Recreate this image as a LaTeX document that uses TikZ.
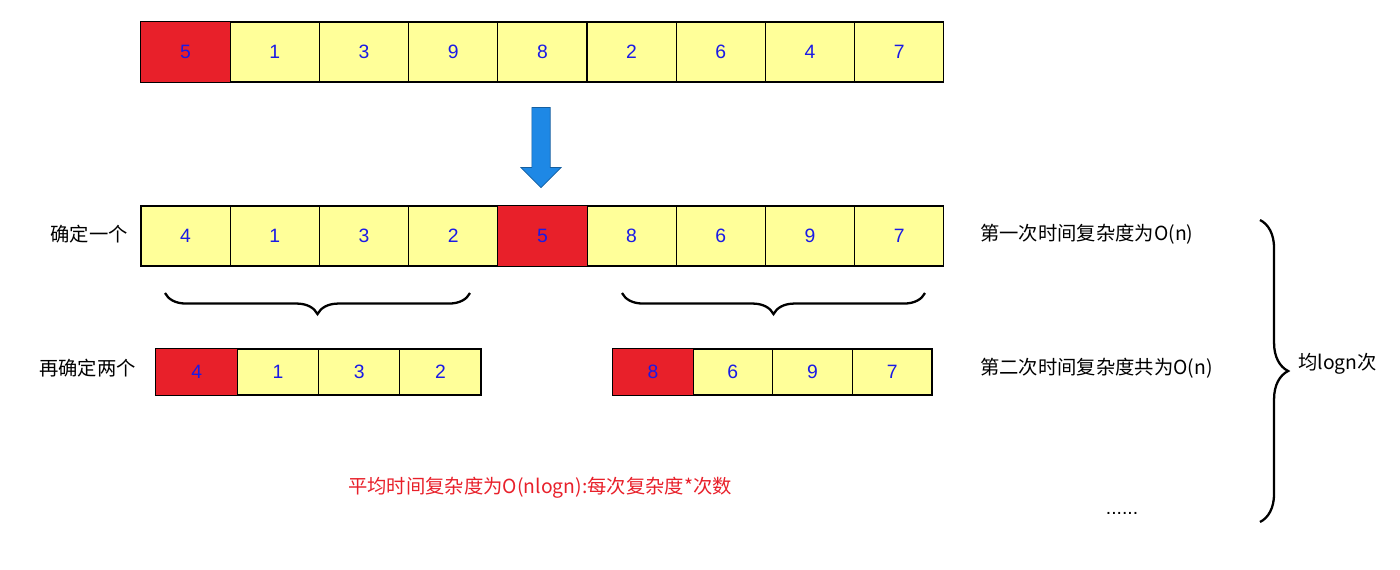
\documentclass[tikz,border=0pt]{standalone}
\usepackage{fontspec}
\setmainfont{Liberation Sans}
\newfontfamily\cjk{Noto Sans CJK SC}
\usetikzlibrary{decorations.pathreplacing,shapes.arrows}
\definecolor{cellyel}{HTML}{FFFF99}
\definecolor{cellred}{HTML}{E8202A}
\definecolor{numblue}{HTML}{1A1AE6}
\definecolor{arrblue}{HTML}{1E88E5}
\tikzset{
  cell/.style={draw, line width=0.6pt, fill=cellyel, minimum height=#1, inner sep=0pt, text=numblue, font=\fontsize{11}{13}\selectfont},
  lbl/.style={font=\cjk\fontsize{11}{13}\selectfont},
  brc/.style={decorate, decoration={brace, amplitude=12pt}, line width=1.3pt}
}
\begin{document}
\begin{tikzpicture}[x=0.02cm, y=-0.02cm]
\useasboundingbox (0,0) rectangle (1400,569);
% top row
\foreach \v [count=\i] in {5,1,3,9,8,2,6,4,7}
  \node[cell=1.2cm, minimum width=1.784cm] (t\i) at ({141+89.2*(\i-0.5)},52) {\v};
\fill[cellred] (t1.north west) rectangle (t1.south east);
\draw[line width=0.6pt] (t1.north west) rectangle (t1.south east);
\node[text=numblue, font=\fontsize{11}{13}\selectfont] at (t1) {5};
% arrow
\node[single arrow, shape border rotate=270, draw=arrblue!70!black, fill=arrblue, minimum height=1.6cm, minimum width=0.8cm, single arrow head extend=0.05cm, inner sep=1pt] (arr) at (541,143) {};
% second row
\foreach \v [count=\i] in {4,1,3,2,5,8,6,9,7}
  \node[cell=1.2cm, minimum width=1.784cm] (m\i) at ({141+89.2*(\i-0.5)},236) {\v};
\fill[cellred] (m5.north west) rectangle (m5.south east);
\draw[line width=0.6pt] (m5.north west) rectangle (m5.south east);
\node[text=numblue, font=\fontsize{11}{13}\selectfont] at (m5) {5};
\node[lbl, anchor=east] (l1) at (134,234) {确定一个};
\node[lbl, anchor=west] (r1) at (974,234) {第一次时间复杂度为O(n)};
% braces
\coordinate (b1a) at (165,293); \coordinate (b1b) at (470,293);
\coordinate (b2a) at (622,293); \coordinate (b2b) at (925,293);
\draw[brc] (b1b) -- (b1a);
\draw[brc] (b2b) -- (b2a);
% third row
\foreach \v [count=\i] in {4,1,3,2}
  \node[cell=0.92cm, minimum width=1.625cm] (p\i) at ({156+81.25*(\i-0.5)},372) {\v};
\foreach \v [count=\i] in {8,6,9,7}
  \node[cell=0.92cm, minimum width=1.595cm] (q\i) at ({613+79.75*(\i-0.5)},372) {\v};
\foreach \c in {p1,q1}{
  \fill[cellred] (\c.north west) rectangle (\c.south east);
  \draw[line width=0.6pt] (\c.north west) rectangle (\c.south east);}
\node[text=numblue, font=\fontsize{11}{13}\selectfont] at (p1) {4};
\node[text=numblue, font=\fontsize{11}{13}\selectfont] at (q1) {8};
\node[lbl, anchor=east] (l2) at (142,368) {再确定两个};
\node[lbl, anchor=west] (r2) at (974,368) {第二次时间复杂度共为O(n)};
% big brace
\coordinate (c1) at (1260,220); \coordinate (c2) at (1260,522);
\draw[brc, decoration={amplitude=16pt}] (c1) -- (c2);
\node[lbl, anchor=west] (cnt) at (1292,364) {均logn次};
\node[lbl, text=cellred] (avg) at (540,488) {平均时间复杂度为O(nlogn):每次复杂度*次数};
\node[font=\fontsize{11}{13}\selectfont] (dots) at (1122,513) {......};
\end{tikzpicture}
\end{document}
